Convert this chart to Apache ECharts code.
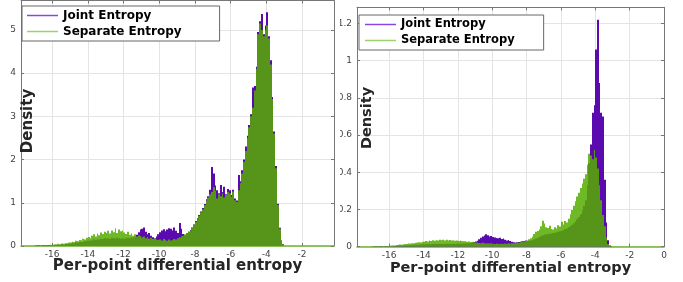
<!DOCTYPE html>
<html>
<head>
<meta charset="utf-8">
<script src="https://cdn.jsdelivr.net/npm/echarts@6/dist/echarts.min.js"></script>
<style>
html, body { margin: 0; padding: 0; background: #fff; }
#wrap { position: relative; width: 683px; height: 282px; overflow: hidden; }
#left { position: absolute; left: 0; top: 0; width: 340px; height: 282px; }
#rightClip { position: absolute; left: 340px; top: 0; width: 343px; height: 282px; overflow: hidden; }
#right { position: absolute; left: -20px; top: 0; width: 363px; height: 282px; }
</style>
</head>
<body>
<div id="wrap">
  <div id="left"></div>
  <div id="rightClip"><div id="right"></div></div>
</div>
<script>
// histogram bins: 0.1 wide, first bin starts at -17.0
var BIN = 0.1;
var BIN_START = -17.0;

var seriesNames = ['Joint Entropy', 'Separate Entropy'];
var xTicksLeft = [-16, -14, -12, -10, -8, -6, -4, -2];
var xTicksRight = [-16, -14, -12, -10, -8, -6, -4, -2, 0];
var yTicksLeft = [0, 1, 2, 3, 4, 5];
var yTicksRight = [0, 0.2, 0.4, 0.6, 0.8, 1, 1.2];

// left panel densities
var leftJoint = [
  0.00,0.01,0.01,0.00,0.01,0.01,0.01,0.01,0.02,0.01,
  0.02,0.02,0.03,0.02,0.03,0.04,0.03,0.04,0.05,0.05,
  0.06,0.07,0.06,0.08,0.08,0.09,0.10,0.09,0.11,0.12,
  0.12,0.14,0.13,0.15,0.14,0.16,0.15,0.17,0.16,0.18,
  0.17,0.18,0.16,0.19,0.18,0.17,0.19,0.18,0.17,0.18,
  0.17,0.18,0.19,0.18,0.20,0.19,0.22,0.26,0.32,0.38,
  0.40,0.43,0.33,0.27,0.30,0.24,0.20,0.18,0.22,0.27,
  0.32,0.36,0.39,0.34,0.38,0.41,0.40,0.36,0.43,0.35,
  0.30,0.53,0.40,0.28,0.25,0.30,0.33,0.37,0.43,0.50,
  0.58,0.64,0.72,0.80,0.88,0.97,1.08,1.15,1.30,1.83,
  1.68,1.40,1.29,1.22,1.41,1.25,1.37,1.20,1.32,1.29,
  1.18,1.30,1.10,1.05,1.64,1.50,1.75,2.00,2.30,2.55,
  2.80,3.05,3.67,3.70,4.15,4.95,5.20,5.37,4.90,5.10,
  5.41,4.85,4.30,3.45,2.65,1.85,0.98,0.42,0.13,0.04
];
var leftSeparate = [
  0.01,0.01,0.02,0.01,0.02,0.02,0.01,0.02,0.02,0.03,
  0.03,0.04,0.03,0.05,0.04,0.06,0.05,0.07,0.06,0.08,
  0.08,0.10,0.09,0.12,0.11,0.14,0.13,0.17,0.15,0.19,
  0.21,0.18,0.24,0.27,0.22,0.29,0.25,0.31,0.28,0.33,
  0.30,0.35,0.29,0.36,0.32,0.41,0.30,0.38,0.34,0.36,
  0.31,0.28,0.33,0.26,0.29,0.24,0.27,0.22,0.25,0.23,
  0.20,0.22,0.18,0.21,0.17,0.19,0.16,0.18,0.15,0.14,
  0.15,0.13,0.16,0.14,0.12,0.15,0.13,0.14,0.16,0.15,
  0.18,0.20,0.22,0.24,0.27,0.30,0.33,0.36,0.42,0.50,
  0.56,0.62,0.70,0.78,0.85,0.95,1.05,1.12,1.20,1.25,
  1.36,1.28,1.10,1.20,1.15,1.22,1.12,1.18,1.25,1.22,
  1.14,1.26,1.06,1.02,1.29,1.45,1.68,1.95,2.20,2.50,
  2.75,3.00,3.20,3.60,4.10,4.90,5.15,5.00,4.85,5.00,
  5.10,4.80,4.20,3.40,2.60,1.80,0.95,0.40,0.12,0.04
];

// right panel densities
var rightJoint = [
  0.001,0.001,0.002,0.001,0.002,0.002,0.001,0.002,0.002,0.002,
  0.003,0.003,0.004,0.004,0.005,0.005,0.006,0.006,0.007,0.007,
  0.008,0.008,0.009,0.009,0.010,0.010,0.011,0.011,0.012,0.012,
  0.012,0.013,0.013,0.014,0.013,0.014,0.014,0.015,0.014,0.015,
  0.015,0.014,0.015,0.016,0.015,0.014,0.015,0.016,0.015,0.016,
  0.016,0.017,0.016,0.018,0.017,0.019,0.018,0.020,0.022,0.025,
  0.028,0.032,0.040,0.048,0.055,0.060,0.067,0.062,0.055,0.058,
  0.052,0.050,0.047,0.045,0.048,0.042,0.044,0.038,0.034,0.036,
  0.030,0.026,0.024,0.022,0.024,0.025,0.027,0.029,0.031,0.033,
  0.030,0.032,0.034,0.036,0.040,0.044,0.048,0.052,0.058,0.062,
  0.065,0.066,0.068,0.070,0.071,0.073,0.075,0.078,0.080,0.083,
  0.086,0.090,0.094,0.098,0.104,0.110,0.118,0.126,0.136,0.148,
  0.160,0.175,0.195,0.220,0.250,0.330,0.450,0.550,0.720,0.760,
  1.060,1.220,0.880,0.720,0.700,0.360,0.130,0.035,0.006,0.002
];
var rightSeparate = [
  0.002,0.003,0.002,0.002,0.003,0.003,0.002,0.003,0.004,0.003,
  0.005,0.006,0.008,0.007,0.009,0.010,0.012,0.011,0.013,0.014,
  0.015,0.017,0.016,0.019,0.018,0.021,0.022,0.024,0.023,0.026,
  0.027,0.030,0.028,0.033,0.031,0.035,0.032,0.036,0.034,0.037,
  0.035,0.038,0.033,0.037,0.034,0.036,0.033,0.035,0.032,0.034,
  0.031,0.033,0.030,0.029,0.031,0.027,0.028,0.025,0.026,0.024,
  0.022,0.023,0.020,0.019,0.021,0.018,0.017,0.019,0.016,0.018,
  0.016,0.015,0.017,0.016,0.014,0.016,0.015,0.017,0.016,0.018,
  0.017,0.019,0.018,0.020,0.022,0.021,0.024,0.026,0.028,0.031,
  0.034,0.040,0.045,0.055,0.068,0.080,0.085,0.092,0.110,0.140,
  0.125,0.105,0.100,0.112,0.095,0.092,0.105,0.098,0.115,0.108,
  0.134,0.120,0.138,0.130,0.150,0.175,0.197,0.220,0.245,0.270,
  0.290,0.315,0.340,0.365,0.390,0.440,0.500,0.490,0.470,0.520,
  0.480,0.420,0.330,0.250,0.170,0.110,0.050,0.015,0.004,0.002
];

function binsOf(values) {
  return values.map(function (v, i) { return [BIN_START + i * BIN, v]; });
}

// one histogram bar, edges snapped to whole pixels so neighbours do not leave seams
function renderBin(params, api) {
  var x = api.value(0);
  var p0 = api.coord([x, 0]);
  var p1 = api.coord([x + BIN, api.value(1)]);
  var x0 = Math.round(p0[0]), x1 = Math.round(p1[0]);
  return {
    type: 'rect',
    shape: { x: x0, y: p1[1], width: x1 - x0, height: p0[1] - p1[1] },
    style: api.style()
  };
}

function panelOption(p) {
  var frame = { show: true, onZero: false, lineStyle: { color: '#777', width: 1 } };
  return {
    animation: false,
    textStyle: { fontFamily: 'DejaVu Sans' },
    grid: {
      left: p.grid[0], right: p.grid[1], top: p.grid[2], bottom: p.grid[3],
      containLabel: false, outerBoundsMode: 'none'
    },
    graphic: [{
      type: 'text', x: p.yNamePos[0], y: p.yNamePos[1], rotation: Math.PI / 2, z: 100,
      style: {
        text: 'Density', align: 'center', verticalAlign: 'middle',
        font: 'bold ' + p.labelFont + 'px "DejaVu Sans"', fill: '#262626'
      }
    }],
    legend: {
      orient: 'vertical',
      left: p.legendPos[0], top: p.legendPos[1],
      padding: p.legendPad,
      itemGap: 2, itemWidth: 31, itemHeight: 1.5, icon: 'rect',
      selectedMode: false,
      backgroundColor: '#fff', borderColor: '#666', borderWidth: 1,
      textStyle: { fontSize: p.legendFont, fontWeight: 'bold', color: '#000', lineHeight: 14 },
      data: [
        { name: seriesNames[0], itemStyle: { color: '#8a46e4' } },
        { name: seriesNames[1], itemStyle: { color: '#8acb50' } }
      ]
    },
    xAxis: [{
      type: 'value', position: 'bottom', min: p.xRange[0], max: p.xRange[1],
      name: 'Per-point differential entropy', nameLocation: 'middle', nameGap: p.xNameGap,
      nameMoveOverlap: false,
      nameTextStyle: { fontSize: p.labelFont, fontWeight: 'bold', color: '#262626' },
      axisLine: { show: true, onZero: false, lineStyle: { color: '#6cb52c', width: 1.5 } },
      axisTick: { show: true, inside: true, length: 3, customValues: p.xTicks, lineStyle: { color: '#777' } },
      axisLabel: { customValues: p.xTicks, fontSize: 9, color: '#444', margin: 4 },
      splitLine: { show: true, lineStyle: { color: '#e4e4e4' } }
    }, {
      type: 'value', position: 'top', min: p.xRange[0], max: p.xRange[1],
      axisLine: frame,
      axisTick: { show: true, inside: true, length: 3, customValues: p.xTicks, lineStyle: { color: '#777' } },
      axisLabel: { show: false }, splitLine: { show: false }
    }],
    yAxis: [{
      type: 'value', position: 'left', min: 0, max: p.yMax,
      axisLine: frame,
      axisTick: { show: true, inside: true, length: 3, customValues: p.yTicks, lineStyle: { color: '#777' } },
      axisLabel: { customValues: p.yTicks, fontSize: 9, color: '#444', margin: 5 },
      splitLine: { show: true, lineStyle: { color: '#e4e4e4' } }
    }, {
      type: 'value', position: 'right', min: 0, max: p.yMax,
      axisLine: frame,
      axisTick: { show: true, inside: true, length: 3, customValues: p.yTicks, lineStyle: { color: '#777' } },
      axisLabel: { show: false }, splitLine: { show: false }
    }],
    series: [{
      name: seriesNames[0], type: 'custom', renderItem: renderBin, clip: true,
      encode: { x: 0, y: 1 },
      itemStyle: { color: '#5a0aae' },
      data: binsOf(p.joint)
    }, {
      name: seriesNames[1], type: 'custom', renderItem: renderBin, clip: true,
      encode: { x: 0, y: 1 },
      itemStyle: { color: '#56ad00', opacity: 0.85 },
      data: binsOf(p.separate)
    }]
  };
}

var leftChart = echarts.init(document.getElementById('left'));
leftChart.setOption(panelOption({
  grid: [21, 6, 0.5, 36],
  xRange: [-17.74, -0.21], yMax: 5.68,
  xTicks: xTicksLeft, yTicks: yTicksLeft,
  xNameGap: 13, yNamePos: [28, 121], labelFont: 15,
  legendPos: [22, 6], legendPad: [2.5, 38, 2.5, 5], legendFont: 12,
  joint: leftJoint, separate: leftSeparate
}));

var rightChart = echarts.init(document.getElementById('right'));
rightChart.setOption(panelOption({
  grid: [37, 19, 7.3, 35.3],
  xRange: [-17.87, 0], yMax: 1.287,
  xTicks: xTicksRight, yTicks: yTicksRight,
  xNameGap: 14, yNamePos: [47, 118], labelFont: 14.5,
  legendPos: [39, 15], legendPad: [2.5, 29, 2.5, 6], legendFont: 11.5,
  joint: rightJoint, separate: rightSeparate
}));
</script>
</body>
</html>
